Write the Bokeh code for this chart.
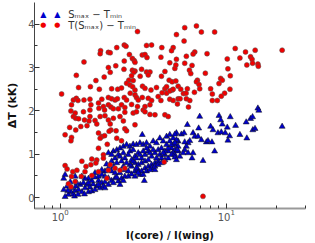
from bokeh.plotting import figure
from bokeh.models import Range1d, FixedTicker, Label
from bokeh.embed import file_html
from bokeh.resources import INLINE

# T(S_max) - T_min  (red circles)
red_x = [2.92, 2.19, 2.43, 2.49, 3.31, 3.55, 4.79, 1.75, 1.74, 1.95,
         2.00, 2.61, 3.12, 3.24, 3.33, 4.04, 2.72, 2.79, 1.39, 2.43,
         2.16, 2.82, 4.57, 5.01, 1.95, 2.00, 2.42, 2.72, 2.82, 2.77,
         3.09, 3.31, 3.47, 4.27, 4.90, 1.25, 1.64, 1.84, 2.69, 2.59,
         2.75, 3.03, 3.39, 4.07, 4.53, 4.72, 4.97, 1.29, 1.52, 1.72,
         2.04, 2.22, 2.34, 2.51, 2.63, 2.73, 2.82, 3.13, 3.24, 3.52,
         3.80, 4.27, 4.37, 4.72, 5.13, 1.02, 1.20, 1.25, 1.28, 1.17,
         1.39, 1.51, 1.53, 1.70, 1.78, 1.95, 2.04, 2.14, 1.82, 1.95,
         2.02, 2.21, 2.43, 2.51, 2.34, 2.45, 2.64, 2.82, 2.88, 2.95,
         2.69, 2.92, 3.12, 3.39, 3.55, 3.24, 3.47, 3.89, 4.04, 4.11,
         4.37, 4.57, 4.79, 4.57, 4.79, 5.13, 5.62, 6.61, 7.08, 8.51,
         5.01, 5.57, 11.32, 13.06, 14.93, 21.7, 6.46, 6.31, 7.66, 5.75,
         10.14, 12.08, 14.0, 14.3, 5.62, 6.22, 4.97, 6.0, 6.11, 10.23,
         13.3, 14.4, 15.5, 15.6, 7.48, 10.57, 9.25, 9.46, 6.70, 6.61,
         6.85, 6.92, 9.04, 5.32, 5.83, 5.52, 5.73, 6.43, 8.05, 10.52,
         8.24, 9.77, 9.33, 5.27, 5.75, 6.03, 5.08, 8.24, 8.83, 5.92,
         4.09, 4.68, 1.16, 1.23, 1.20, 1.24, 1.29, 1.38, 1.51, 1.51,
         1.40, 1.49, 1.62, 1.71, 1.85, 2.09, 2.24, 1.74, 1.86, 1.95,
         2.09, 2.29, 2.40, 2.45, 2.75, 2.88, 3.16, 3.24, 3.47, 3.72,
         4.27, 4.47, 1.14, 1.24, 1.33, 1.45, 1.07, 1.17, 1.16, 1.66,
         2.00, 2.02, 2.17, 1.97, 1.70, 1.78, 1.74, 1.85, 2.19, 2.34,
         2.45, 2.51, 2.82, 1.70, 1.92, 1.82, 1.82, 1.55, 1.66, 1.35,
         1.43, 1.53, 1.64, 1.07, 1.10, 1.19, 1.26, 1.41, 1.17, 1.23,
         1.12, 1.16, 1.34, 1.55, 1.91, 1.70, 1.95, 2.00, 2.14, 2.29,
         2.45, 4.23, 7.24]
red_y = [3.83, 3.46, 3.52, 3.49, 3.51, 3.52, 3.46, 3.39, 3.32, 3.35,
         3.34, 3.30, 3.29, 3.30, 3.23, 3.24, 3.21, 3.16, 3.13, 3.15,
         3.04, 3.12, 3.11, 3.19, 3.00, 2.89, 2.96, 2.94, 2.92, 2.89,
         2.96, 2.90, 2.90, 2.91, 2.98, 2.82, 2.70, 2.78, 2.81, 2.71,
         2.70, 2.80, 2.83, 2.80, 2.71, 2.67, 2.69, 2.54, 2.56, 2.50,
         2.51, 2.50, 2.53, 2.64, 2.60, 2.56, 2.48, 2.57, 2.52, 2.48,
         2.54, 2.51, 2.56, 2.48, 2.57, 2.39, 2.25, 2.29, 2.24, 2.14,
         2.25, 2.27, 2.14, 2.18, 2.27, 2.31, 2.28, 2.25, 2.10, 2.14,
         2.09, 2.28, 2.31, 2.25, 2.14, 2.08, 2.41, 2.37, 2.31, 2.25,
         2.15, 2.10, 2.31, 2.29, 2.24, 2.10, 2.14, 2.33, 2.24, 2.42,
         2.41, 2.46, 2.50, 2.27, 2.24, 2.28, 3.92, 3.96, 3.82, 3.82,
         3.76, 3.61, 3.44, 3.36, 3.40, 3.40, 3.36, 3.31, 3.32, 3.26,
         3.20, 3.22, 3.25, 3.19, 3.10, 3.05, 3.06, 2.94, 2.86, 2.97,
         3.06, 3.10, 3.08, 3.03, 2.87, 2.81, 2.75, 2.71, 2.71, 2.67,
         2.61, 2.51, 2.63, 2.50, 2.51, 2.40, 2.41, 2.43, 2.51, 2.50,
         2.39, 2.41, 2.34, 2.28, 2.28, 2.24, 2.16, 2.24, 2.24, 2.09,
         3.46, 3.39, 2.00, 1.95, 1.87, 1.83, 1.82, 1.98, 2.02, 1.87,
         1.79, 1.77, 1.78, 2.06, 2.02, 2.05, 2.05, 1.87, 1.89, 1.79,
         1.83, 1.87, 1.77, 1.97, 1.95, 1.98, 2.02, 1.98, 1.92, 1.91,
         1.91, 1.87, 1.62, 1.56, 1.64, 1.66, 1.45, 1.39, 1.31, 1.70,
         1.70, 1.56, 1.54, 1.53, 1.49, 1.41, 1.37, 1.43, 1.37, 1.31,
         1.59, 1.54, 1.68, 1.14, 1.23, 0.99, 0.91, 0.89, 0.87, 0.84,
         0.72, 0.76, 0.80, 0.74, 0.66, 0.60, 0.63, 0.60, 0.49, 0.37,
         0.32, 0.25, 0.49, 0.51, 0.45, 0.60, 0.63, 0.76, 0.68, 0.63,
         0.68, 0.82, 0.03]

# S_max - T_min  (blue triangles)
blue_x = [1.05, 1.12, 1.16, 1.20, 1.23, 1.10, 1.15, 1.24, 1.29, 1.35,
          1.41, 1.48, 1.32, 1.38, 1.45, 1.51, 1.58, 1.66, 1.55, 1.70,
          1.78, 1.86, 1.95, 2.04, 2.14, 2.24, 2.34, 2.45, 2.57, 2.69,
          2.82, 2.95, 3.09, 3.24, 3.39, 3.55, 3.72, 3.89, 4.07, 4.27,
          4.47, 4.68, 4.90, 5.13, 1.95, 2.09, 2.19, 2.29, 2.40, 2.51,
          2.63, 2.75, 2.88, 3.02, 3.16, 3.31, 3.47, 3.63, 3.80, 3.98,
          4.17, 4.37, 4.57, 4.79, 5.01, 3.12, 2.04, 2.14, 2.24, 2.34,
          2.45, 2.57, 2.69, 2.82, 2.95, 3.09, 3.24, 3.39, 3.55, 3.72,
          3.89, 4.07, 4.27, 4.47, 4.68, 4.90, 5.13, 1.86, 1.95, 2.04,
          1.78, 1.86, 1.95, 1.62, 1.70, 2.69, 2.82, 2.95, 3.09, 3.24,
          3.39, 3.55, 3.72, 3.21, 1.17, 1.26, 1.11, 1.22, 1.28, 1.40,
          1.55, 1.62, 1.74, 1.82, 1.48, 1.61, 2.14, 2.29, 2.45, 2.57,
          2.63, 2.88, 3.02, 1.48, 1.41, 1.35, 1.23, 1.07, 1.90, 2.09,
          2.19, 2.40, 2.51, 2.75, 2.88, 3.02, 3.16, 3.31, 3.47, 3.63,
          3.80, 3.98, 4.17, 4.37, 4.57, 4.79, 5.01, 2.29, 2.40, 2.63,
          2.75, 2.04, 1.78, 1.70, 1.86, 2.09, 2.19, 2.29, 2.40, 2.82,
          2.95, 3.16, 3.31, 3.47, 3.72, 3.89, 4.07, 4.27, 4.47, 4.68,
          4.90, 5.13, 6.92, 9.04, 9.25, 9.46, 10.57, 11.38, 13.18, 14.0,
          14.4, 15.5, 15.7, 21.7, 14.45, 14.9, 5.83, 6.82, 8.05, 8.32,
          8.91, 9.33, 9.86, 10.14, 10.47, 12.08, 13.3, 10.23, 4.90, 5.37,
          5.57, 5.01, 4.90, 6.31, 6.46, 6.76, 6.03, 5.89, 5.62, 7.08,
          7.59, 7.76, 8.20, 5.75, 5.62, 5.50, 5.89, 6.31, 8.51, 5.08,
          4.90, 5.25, 5.01, 6.22, 7.24, 1.07, 1.05]
blue_y = [0.44, 0.07, 0.13, 0.08, 0.16, 0.26, 0.36, 0.26, 0.18, 0.13,
          0.22, 0.13, 0.30, 0.34, 0.30, 0.24, 0.31, 0.26, 0.39, 0.39,
          0.34, 0.36, 0.30, 0.39, 0.45, 0.38, 0.44, 0.49, 0.49, 0.54,
          0.61, 0.64, 0.61, 0.68, 0.72, 0.76, 0.80, 0.84, 0.91, 0.99,
          1.07, 1.14, 1.22, 1.30, 1.03, 1.07, 1.10, 1.14, 1.18, 1.22,
          1.18, 1.23, 1.22, 1.26, 1.22, 1.26, 1.18, 1.30, 1.26, 1.37,
          1.30, 1.41, 1.45, 1.37, 1.49, 1.45, 0.84, 0.91, 0.99, 0.84,
          0.91, 0.99, 0.87, 0.95, 1.03, 0.91, 0.99, 1.07, 0.95, 1.03,
          1.10, 1.14, 1.07, 1.14, 1.22, 1.10, 1.18, 0.61, 0.68, 0.61,
          0.53, 0.49, 0.45, 0.57, 0.49, 0.72, 0.80, 0.76, 0.80, 0.84,
          0.87, 0.68, 0.64, 0.39, 0.22, 0.34, 0.16, 0.03, 0.07, 0.08,
          0.15, 0.18, 0.22, 0.26, 0.44, 0.47, 0.57, 0.57, 0.64, 0.61,
          0.76, 0.68, 0.53, 0.34, 0.44, 0.49, 0.49, 0.53, 0.77, 0.72,
          0.80, 0.72, 0.80, 0.84, 0.91, 0.99, 1.07, 1.14, 1.03, 1.10,
          0.91, 0.99, 1.03, 1.22, 1.30, 1.03, 1.30, 0.95, 1.03, 1.07,
          1.10, 0.99, 0.64, 0.30, 0.22, 0.34, 0.47, 0.30, 0.39, 0.49,
          0.57, 0.53, 0.61, 0.64, 0.72, 0.76, 0.80, 0.87, 0.91, 0.99,
          0.99, 1.07, 1.87, 1.89, 1.79, 1.69, 1.86, 1.66, 1.74, 1.82,
          1.86, 2.06, 2.01, 1.64, 1.56, 1.59, 1.68, 1.60, 1.64, 1.56,
          1.49, 1.51, 1.49, 1.62, 1.42, 1.45, 1.37, 1.32, 1.46, 1.46,
          1.49, 1.33, 1.26, 1.49, 1.41, 1.41, 1.31, 1.26, 1.28, 1.33,
          1.28, 1.31, 1.28, 1.18, 1.10, 1.03, 1.03, 1.03, 1.07, 1.10,
          0.93, 0.95, 0.87, 0.91, 0.85, 0.02, 0.18]

x_major = [1, 10]
x_minor = [0.7, 0.8, 0.9, 2, 3, 4, 5, 6, 7, 8, 9, 20, 30]
y_major = [0, 1, 2, 3, 4]
y_minor = [0.5, 1.5, 2.5, 3.5]

FONT = "DejaVu Sans"

p = figure(width=315, height=243, x_axis_type="log",
           x_range=Range1d(0.7, 30), y_range=Range1d(-0.25, 4.5),
           output_backend="svg", toolbar_location=None,
           min_border_left=34, min_border_right=10,
           min_border_top=2, min_border_bottom=34)
p.outline_line_color = None
p.xgrid.visible = False
p.ygrid.visible = False
p.background_fill_color = "white"

p.scatter(blue_x, blue_y, marker="triangle", size=6,
          fill_color="#0000cc", line_color="#111111", line_width=0.5)
p.scatter(red_x, red_y, marker="circle", size=5,
          fill_color="#f00000", line_color="#555555", line_width=0.5)

p.xaxis.ticker = FixedTicker(ticks=x_major, minor_ticks=x_minor)
p.yaxis.ticker = FixedTicker(ticks=y_major, minor_ticks=y_minor)

for ax in (p.xaxis[0], p.yaxis[0]):
    ax.major_tick_in = 5
    ax.major_tick_out = 0
    ax.minor_tick_in = 3
    ax.minor_tick_out = 0
    ax.major_tick_line_color = "#333333"
    ax.minor_tick_line_color = "#333333"
    ax.major_label_text_font = FONT
    ax.major_label_text_font_size = "10px"
    ax.major_label_text_color = "#555555"
    ax.axis_label_text_font = FONT
    ax.axis_label_text_font_style = "bold"
    ax.axis_label_text_color = "#111111"

p.yaxis.axis_line_color = "#444444"
p.yaxis.axis_line_width = 1
p.xaxis.axis_line_color = "#999999"
p.xaxis.axis_line_width = 2
p.xaxis.axis_label = "I(core) / I(wing)"
p.yaxis.axis_label = "ΔT (kK)"
p.xaxis.axis_label_text_font_size = "10px"
p.yaxis.axis_label_text_font_size = "11px"
p.xaxis.major_label_standoff = 0
p.xaxis.axis_label_standoff = 6
p.yaxis.major_label_standoff = 0
p.yaxis.axis_label_standoff = 6

# legend (top left), two markers per entry like the original
leg_rows = [4.23, 3.98]
for xm in (0.79, 0.96):
    p.add_layout(Label(x=xm, y=leg_rows[0], text="▲", text_color="#0000cc",
                       text_font=FONT, text_font_size="8px",
                       text_align="center", text_baseline="middle"))
    p.add_layout(Label(x=xm, y=leg_rows[1], text="●", text_color="#f00000",
                       text_font=FONT, text_font_size="7px",
                       text_align="center", text_baseline="middle"))
p.add_layout(Label(x=1.117, y=leg_rows[0], text="Sₘₐₓ − Tₘᵢₙ",
                   text_color="#333333", text_font=FONT, text_font_size="10px",
                   text_align="left", text_baseline="middle"))
p.add_layout(Label(x=1.117, y=leg_rows[1], text="T(Sₘₐₓ) − Tₘᵢₙ",
                   text_color="#333333", text_font=FONT, text_font_size="10px",
                   text_align="left", text_baseline="middle"))

open("out.html", "w").write(file_html(p, INLINE))
